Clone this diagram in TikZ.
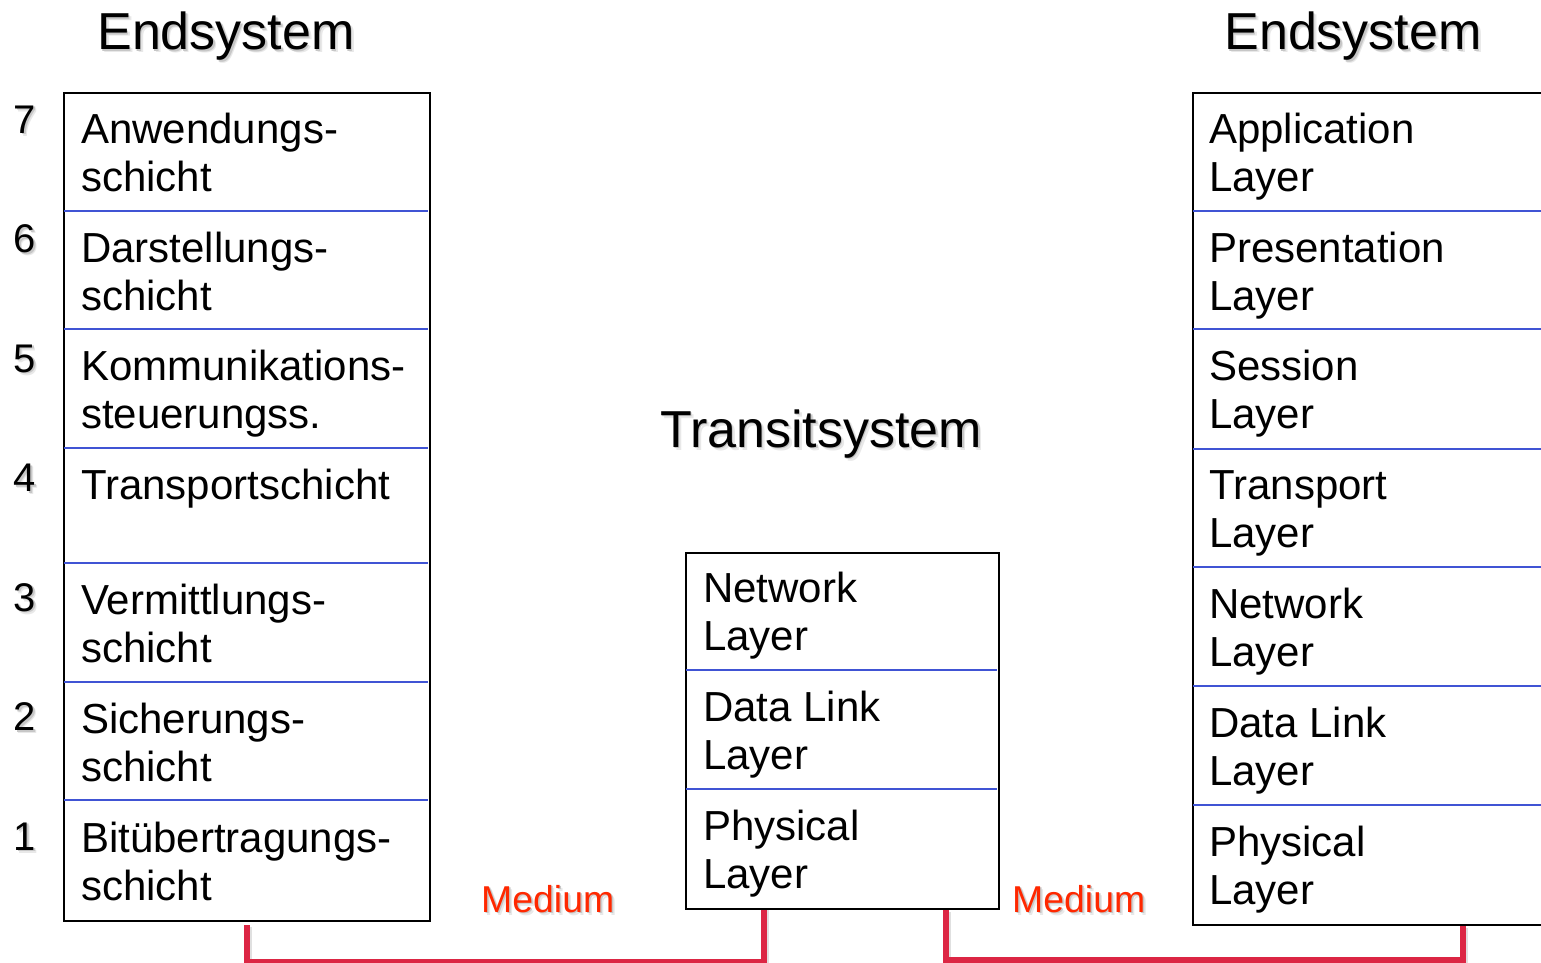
\documentclass[tikz,border=0pt]{standalone}
\usepackage{fontspec}
\setmainfont{Liberation Sans}
\definecolor{sepblue}{RGB}{64,84,212}
\definecolor{medred}{RGB}{220,38,68}
\definecolor{medtext}{RGB}{255,40,0}
\newcommand{\twolines}[2]{\vtop{\baselineskip=48pt\hbox{#1}\hbox{#2}}}
% text with a soft drop shadow, all inside one node: {colour}{text}
\newcommand{\shtext}[2]{\leavevmode
  \rlap{\kern3pt\raisebox{-3pt}{\textcolor{black!9}{#2}}}%
  \rlap{\kern1.5pt\raisebox{-1.5pt}{\textcolor{black!22}{#2}}}\textcolor{#1}{#2}}
\begin{document}
\begin{tikzpicture}[x=1pt,y=-1pt,
  stack/.style={draw=black, line width=2pt, inner sep=0pt, anchor=north west},
  sep/.style={draw=sepblue, line width=2pt},
  cell/.style={anchor=base west, inner sep=0pt, font=\fontsize{42}{48}\selectfont},
  num/.style={anchor=base, inner sep=0pt, font=\fontsize{40}{48}\selectfont},
  title/.style={anchor=base, inner sep=0pt, font=\fontsize{52}{60}\selectfont},
  medlabel/.style={anchor=base west, inner sep=0pt, font=\fontsize{37.4}{42}\selectfont},
  medium/.style={draw=medred, line width=6pt},
  lshade/.style={draw=black, opacity=0.12, line width=6pt}]
\useasboundingbox (0,0) rectangle (1541,963);
\clip (0,0) rectangle (1541,963);

% ---------- titles ----------
\node[title] (t1) at (226,50) {\shtext{black}{Endsystem}};
\node[title] (t2) at (1353,50) {\shtext{black}{Endsystem}};
\node[title] (t3) at (821,447) {\shtext{black}{Transitsystem}};

% ---------- left stack ----------
\node[stack, minimum width=366pt, minimum height=828pt] (L) at (63,92) {};
\foreach \y in {211,329,448,563,682,800} \draw[sep] (64,\y) -- (428,\y);
\node[cell] (l7) at (81,143) {\twolines{Anwendungs-}{schicht}};
\node[cell] (l6) at (81,262) {\twolines{Darstellungs-}{schicht}};
\node[cell] (l5) at (81,380) {\twolines{Kommunikations-}{steuerungss.}};
\node[cell] (l4) at (81,499) {Transportschicht};
\node[cell] (l3) at (81,614) {\twolines{Vermittlungs-}{schicht}};
\node[cell] (l2) at (81,733) {\twolines{Sicherungs-}{schicht}};
\node[cell] (l1) at (81,852) {\twolines{Bitübertragungs-}{schicht}};

% layer numbers
\foreach \n/\y in {7/133,6/252.5,5/372,4/491.5,3/611,2/730.5,1/850}{
  \node[num] (n\n) at (25,\y) {\shtext{black}{\n}};
}

% ---------- middle stack ----------
\node[stack, minimum width=313pt, minimum height=356pt] (M) at (685,552) {};
\foreach \y in {670,789} \draw[sep] (686,\y) -- (997,\y);
\node[cell] (m3) at (703,602) {\twolines{Network}{Layer}};
\node[cell] (m2) at (703,721) {\twolines{Data Link}{Layer}};
\node[cell] (m1) at (703,840) {\twolines{Physical}{Layer}};

% ---------- right stack ----------
\node[stack, minimum width=420pt, minimum height=832pt] (R) at (1192,92) {};
\foreach \y in {211,329,449,567,686,805} \draw[sep] (1193,\y) -- (1560,\y);
\node[cell] (r7) at (1209,143) {\twolines{Application}{Layer}};
\node[cell] (r6) at (1209,262) {\twolines{Presentation}{Layer}};
\node[cell] (r5) at (1209,380) {\twolines{Session}{Layer}};
\node[cell] (r4) at (1209,499) {\twolines{Transport}{Layer}};
\node[cell] (r3) at (1209,618) {\twolines{Network}{Layer}};
\node[cell] (r2) at (1209,737) {\twolines{Data Link}{Layer}};
\node[cell] (r1) at (1209,856) {\twolines{Physical}{Layer}};

% ---------- medium connectors ----------
\coordinate (mLa) at (764,910);
\coordinate (mRa) at (946,910);
\coordinate (rRa) at (1463,926);
\draw[lshade] ([xshift=2pt,yshift=-5pt]L.south) -- ++(0,37) -| ([xshift=2pt]mLa);
\draw[lshade] ([xshift=2pt,yshift=-2pt]mRa) -- ++(0,50) -| ([xshift=2pt,yshift=-2pt]rRa);
\draw[medium] ([yshift=-3pt]L.south) -- ++(0,37) -| (mLa);
\draw[medium] (mRa) -- ++(0,50) -| (rRa);

\node[medlabel] (md1) at (481,912) {\shtext{medtext}{Medium}};
\node[medlabel] (md2) at (1012,912) {\shtext{medtext}{Medium}};
\end{tikzpicture}
\end{document}
